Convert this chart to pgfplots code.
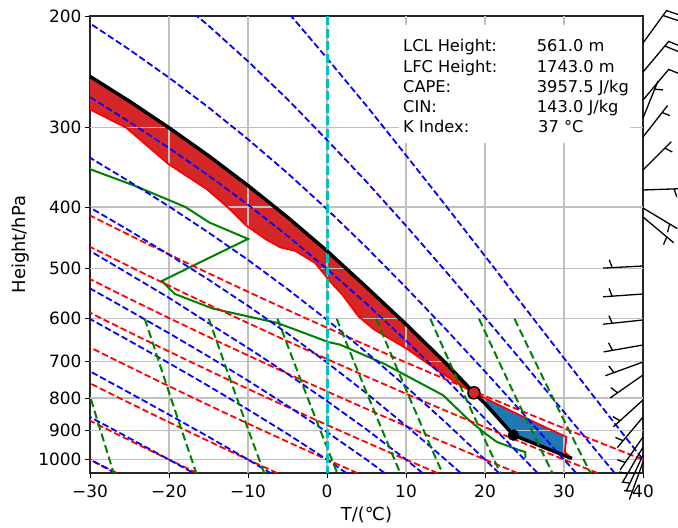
\documentclass[border=0pt]{standalone}
\usepackage{fontspec}
\setmainfont{DejaVu Sans}
\usepackage{pgfplots}
\pgfplotsset{compat=1.18}
\definecolor{tabred}{RGB}{214,39,40}
\definecolor{tabblue}{RGB}{31,119,180}
\definecolor{mgreen}{RGB}{0,128,0}
\definecolor{mcyan}{RGB}{0,191,191}
\definecolor{gridc}{RGB}{192,192,192}
\definecolor{mred}{RGB}{255,0,0}
\definecolor{mblue}{RGB}{0,0,255}
\tikzset{
 dry/.style={mred, line width=1.8bp, dash pattern=on 6.5bp off 3bp},
 moist/.style={mblue, line width=1.8bp, dash pattern=on 6.5bp off 3bp},
 mix/.style={mgreen, line width=2bp, dash pattern=on 8bp off 4bp},
 barb/.style={black, line width=1.3bp},
}
\begin{document}
\begin{tikzpicture}
\begin{axis}[
 name=main,
 scale only axis, width=553bp, height=457bp,
 xmin=-30, xmax=40,
 ymode=log, ymin=200, ymax=1050, y dir=reverse,
 xtick={-30,-20,-10,0,10,20,30,40},
 xticklabels={−30,−20,−10,0,10,20,30,40},
 ytick={200,300,400,500,600,700,800,900,1000},
 yticklabels={200,300,400,500,600,700,800,900,1000},
 yminorticks=false, xminorticks=false,
 tick align=outside, major tick length=5bp,
 xtick pos=bottom, ytick pos=left,
 tick style={black, line width=1bp},
 axis line style={black!85, line width=1.2bp},
 tick label style={font=\fontsize{17}{20}\selectfont},
 xticklabel style={yshift=-3bp},
 xlabel={T/(℃)}, ylabel={Height/hPa},
 label style={font=\fontsize{18}{21}\selectfont},
 xlabel style={at={(axis description cs:0.5,-0.092)}, anchor=center},
 ylabel style={at={(axis description cs:-0.1248,0.5)}, anchor=center},
 clip=true,
 unbounded coords=jump,
]
% CAPE area
\addplot[fill=tabred, draw=none] coordinates {
 (18.6,785)(17.3,769)(14.3,728)(10.1,669)(5.9,623)(4.0,595)(1.9,549)(0.5,526)(-1.5,490)(-4.0,469)(-5.9,463)(-7.7,450)(-10.2,428)(-12.5,401)(-15.2,375)(-20.1,342)(-25.4,300)(-29.9,281)(-34,263)
 (-35,228)(-30,249)(-25,272.5)(-20,300)(-15,332)(-10,370)(-5,415)(0,469)(5,535)(10,612)(15,704)(18.6,785)};
% CIN area
\addplot[fill=tabblue, draw=none] coordinates {
 (18.6,785)(25.3,862)(30.3,921)(30.1,973)(31.0,996)(23.6,915)(20,815.8)(18.6,785)};
% grid
\addplot[gridc, line width=1.2bp] coordinates {(-20,200)(-20,1050)};
\addplot[gridc, line width=1.2bp] coordinates {(-10,200)(-10,1050)};
\addplot[gridc, line width=1.2bp] coordinates {(0,200)(0,1050)};
\addplot[gridc, line width=1.2bp] coordinates {(10,200)(10,1050)};
\addplot[gridc, line width=1.2bp] coordinates {(20,200)(20,1050)};
\addplot[gridc, line width=1.2bp] coordinates {(30,200)(30,1050)};
\addplot[gridc, line width=1.2bp] coordinates {(-30,300)(40,300)};
\addplot[gridc, line width=1.2bp] coordinates {(-30,400)(40,400)};
\addplot[gridc, line width=1.2bp] coordinates {(-30,500)(40,500)};
\addplot[gridc, line width=1.2bp] coordinates {(-30,600)(40,600)};
\addplot[gridc, line width=1.2bp] coordinates {(-30,700)(40,700)};
\addplot[gridc, line width=1.2bp] coordinates {(-30,800)(40,800)};
\addplot[gridc, line width=1.2bp] coordinates {(-30,900)(40,900)};
\addplot[gridc, line width=1.2bp] coordinates {(-30,1000)(40,1000)};
% temperature
\addplot[mred, line width=1.8bp] coordinates {
 (-34,263)(-29.9,281)(-25.4,300)(-20.1,342)(-15.2,375)(-12.5,401)(-10.2,428)(-7.7,450)(-5.9,463)(-4.0,469)(-1.5,490)(0.5,526)(1.9,549)(4.0,595)(5.9,623)(10.1,669)(14.3,728)(17.3,769)(18.6,785)(25.3,862)(30.3,921)(30.1,973)(31.0,996)};
% dewpoint
\addplot[mgreen, line width=2bp] coordinates {
 (-32,340)(-29.9,349)(-24.4,370)(-17.9,400)(-14.9,423)(-10.0,449)(-20.9,523)(-19.3,548)(-14.5,578)(-6.3,609)(0.2,653)(1.65,659)(7.3,707)(9.2,728)(14.7,792)(17.9,865)(19.8,905)(21.5,938)(24.4,967)(25.1,973)(25.1,995)};
% parcel
\addplot[black, line width=3.5bp] coordinates {
 (31.0,996)(23.6,915)(20,815.8)(18.6,785)(15,704)(10,612)(5,535)(0,469)(-5,415)(-10,370)(-15,332)(-20,300)(-25,272.5)(-30,249)(-35,228)};
% dry adiabats
\addplot[dry] coordinates {(-26.59,1050)(-30,1000)(-33.54,950)};
\addplot[dry] coordinates {(-16.45,1050)(-20,1000)(-23.68,950)(-27.51,900)(-31.49,850)};
\addplot[dry] coordinates {(-6.31,1050)(-10,1000)(-13.83,950)(-17.80,900)(-21.94,850)(-26.25,800)(-30.76,750)};
\addplot[dry] coordinates {(3.84,1050)(0,1000)(-3.97,950)(-8.10,900)(-12.39,850)(-16.87,800)(-21.55,750)(-26.46,700)(-31.63,650)};
\addplot[dry] coordinates {(13.98,1050)(10,1000)(5.88,950)(1.60,900)(-2.85,850)(-7.48,800)(-12.34,750)(-17.43,700)(-22.79,650)(-28.45,600)(-34.46,550)};
\addplot[dry] coordinates {(24.12,1050)(20,1000)(15.73,950)(11.31,900)(6.70,850)(1.90,800)(-3.13,750)(-8.40,700)(-13.95,650)(-19.80,600)(-26.03,550)(-32.66,500)};
\addplot[dry] coordinates {(34.25,1050)(30,1000)(25.59,950)(21.01,900)(16.24,850)(11.28,800)(6.08,750)(0.63,700)(-5.10,650)(-11.16,600)(-17.60,550)(-24.46,500)(-31.84,450)};
\addplot[dry] coordinates {(44.39,1050)(40,1000)(35.44,950)(30.72,900)(25.80,850)(20.66,800)(15.29,750)(9.66,700)(3.74,650)(-2.52,600)(-9.17,550)(-16.26,500)(-23.88,450)(-32.13,400)};
% moist adiabats
\addplot[moist] coordinates {(-26.8,1050)(-30,1000)(-35,926.4)};
\addplot[moist] coordinates {(-15,1082)(-20,1000)(-25,925.4)(-30,856.7)(-35,793.2)};
\addplot[moist] coordinates {(-5,1089.7)(-10,1000)(-15,920.8)(-20,849.5)(-25,785.0)(-30,726.0)(-35,671.7)};
\addplot[moist] coordinates {(2.44,1050)(0,1000)(-5,911.1)(-10,833.9)(-15,765.6)(-20,704.7)(-25,650.0)(-30,600.3)(-35,554.8)};
\addplot[moist] coordinates {(7.28,1050)(5,1000)(0,905.1)(-5,822.8)(-10,750.9)(-15,687.8)(-20,632.2)(-25,582.4)(-30,537.4)(-35,496.4)};
\addplot[moist] coordinates {(12.09,1050)(10,1000)(5,896.3)(0,808.5)(-5,732.8)(-10,666.9)(-15,609.4)(-20,556)(-25,510.5)(-30,469)(-35,432.5)};
\addplot[moist] coordinates {(16.92,1050)(15,1000)(10,884.4)(5,786.2)(0,703.2)(-5,632.7)(-10,572.4)(-15,520.5)(-20,475.4)(-25,435.8)(-30,400.7)(-35,369.0)};
\addplot[moist] coordinates {(21.76,1050)(20,1000)(15,873.5)(10,767.4)(5,677.8)(0,602.2)(-5,538.6)(-10,484.6)(-15,438.7)(-20,399.1)(-25,364.7)(-30,334.4)(-35,307.4)};
\addplot[moist] coordinates {(26.65,1050)(25,1000)(20,862.2)(15,746.3)(10,649.4)(5,568.1)(0,500.8)(-5,444.1)(-10,396.7)(-15,356.7)(-20,322.9)(-25,293.7)(-30,268.4)(-35,246.1)};
\addplot[moist] coordinates {(31.54,1050)(30,1000)(25,851)(20,726.5)(15,622.3)(10,535.6)(5,463.1)(0,403.1)(-5,353.7)(-10,312.8)(-15,278.6)(-20,250.1)(-25,226.0)(-30,205.4)(-35,187.5)};
\addplot[moist] coordinates {(36.42,1050)(35,1000)(30,841.2)(25,707.5)(20,597.1)(15,504.5)(10,428)(5,365)(0,313.6)(-5,270.5)(-10,235.7)(-15,207.1)(-20,183.7)};
\addplot[moist] coordinates {(41.4,1050)(40,1000)(35,832.5)(30,692)(25,575.3)(20,477.8)(15,397.5)(10,331.5)(5,277)(0,233.1)(-5,196.9)};
% mixing ratio lines
\addplot[mix] coordinates {(-32.93,600)(-31.33,700)(-29.92,800)(-28.67,900)(-27.53,1000)(-27.0,1050)};
\addplot[mix] coordinates {(-23.06,600)(-21.30,700)(-19.76,800)(-18.38,900)(-17.13,1000)(-16.55,1050)};
\addplot[mix] coordinates {(-14.96,600)(-13.07,700)(-11.41,800)(-9.93,900)(-8.58,1000)(-7.95,1050)};
\addplot[mix] coordinates {(-6.26,600)(-4.23,700)(-2.44,800)(-0.84,900)(0.61,1000)(1.29,1050)};
\addplot[mix] coordinates {(1.23,600)(3.39,700)(5.30,800)(7.00,900)(8.55,1000)(9.27,1050)};
\addplot[mix] coordinates {(6.22,600)(8.48,700)(10.46,800)(12.24,900)(13.85,1000)(14.61,1050)};
\addplot[mix] coordinates {(13.08,600)(15.46,700)(17.56,800)(19.44,900)(21.15,1000)(21.94,1050)};
\addplot[mix] coordinates {(19.24,600)(21.74,700)(23.94,800)(25.91,900)(27.70,1000)(28.54,1050)};
\addplot[mix] coordinates {(23.73,600)(26.32,700)(28.60,800)(30.64,900)(32.49,1000)(33.36,1050)};
% 0 degC isotherm
\addplot[mcyan, line width=3bp, dash pattern=on 9bp off 3.5bp] coordinates {(0,200)(0,1050)};
% LCL and LFC
\addplot[only marks, mark=*, mark size=5.5bp, black] coordinates {(23.6,915)};
\addplot[only marks, mark=*, mark size=6bp, mark options={fill=tabred, draw=black, line width=1.5bp}] coordinates {(18.6,785)};
\end{axis}
\begin{axis}[
 at={(main.south west)}, anchor=south west,
 scale only axis, width=553bp, height=457bp,
 xmin=0, xmax=553, ymin=0, ymax=457,
 hide axis, clip=false, unbounded coords=jump,
]
\addplot[fill=white, draw=none] coordinates {(309,330)(540,330)(540,448)(309,448)(309,330)};
\node[anchor=base west, inner sep=0, font=\fontsize{16.3}{19}\selectfont] at (axis cs:313,421) {LCL Height:};
\node[anchor=base west, inner sep=0, font=\fontsize{16.3}{19}\selectfont] at (axis cs:313,400.7) {LFC Height:};
\node[anchor=base west, inner sep=0, font=\fontsize{16.3}{19}\selectfont] at (axis cs:313,380.4) {CAPE:};
\node[anchor=base west, inner sep=0, font=\fontsize{16.3}{19}\selectfont] at (axis cs:313,360) {CIN:};
\node[anchor=base west, inner sep=0, font=\fontsize{16.3}{19}\selectfont] at (axis cs:313,340) {K Index:};
\node[anchor=base west, inner sep=0, font=\fontsize{16.3}{19}\selectfont] at (axis cs:446.7,421) {561.0 m};
\node[anchor=base west, inner sep=0, font=\fontsize{16.3}{19}\selectfont] at (axis cs:446.7,400.7) {1743.0 m};
\node[anchor=base west, inner sep=0, font=\fontsize{16.3}{19}\selectfont] at (axis cs:446.7,380.4) {3957.5 J/kg};
\node[anchor=base west, inner sep=0, font=\fontsize{16.3}{19}\selectfont] at (axis cs:446.7,360) {143.0 J/kg};
\node[anchor=base west, inner sep=0, font=\fontsize{16.3}{19}\selectfont] at (axis cs:448,340) {37 °C};
% wind barbs
\addplot[barb] coordinates {(553,430)(576.5,462.4)(592.4,457.0)(nan,nan)(573.0,457.5)(588.9,452.2)};
\addplot[barb] coordinates {(553,401)(578.7,431.6)(594.2,425.2)(nan,nan)(574.8,427.0)(590.3,420.6)};
\addplot[barb] coordinates {(553,373)(578.7,403.6)(594.2,397.2)};
\addplot[barb] coordinates {(553,355)(568.0,392.1)(nan,nan)(564.6,383.8)(573.0,383.1)};
\addplot[barb] coordinates {(553,336)(577.6,367.5)(nan,nan)(572.1,360.4)(579.9,357.4)};
\addplot[barb] coordinates {(553,303)(581.3,331.3)(nan,nan)(574.9,324.9)(582.3,321.0)};
\addplot[barb] coordinates {(553,283)(593.0,284.4)(nan,nan)(584.0,284.1)(586.8,276.2)};
\addplot[barb] coordinates {(553,265)(587.3,244.4)(nan,nan)(579.6,249.0)(577.6,240.9)};
\addplot[barb] coordinates {(553,256)(583.6,230.3)(nan,nan)(576.7,236.1)(573.5,228.4)};
\addplot[barb] coordinates {(553,207)(513.1,204.9)(nan,nan)(522.1,205.4)(519.2,213.3)};
\addplot[barb] coordinates {(553,179)(513.1,176.2)(nan,nan)(522.1,176.8)(519.0,184.6)};
\addplot[barb] coordinates {(553,153)(513.2,148.8)(nan,nan)(522.2,149.7)(518.9,157.4)};
\addplot[barb] coordinates {(553,128)(513.6,121.1)(nan,nan)(522.5,122.7)(518.6,130.1)};
\addplot[barb] coordinates {(553,111)(515.4,97.3)(nan,nan)(523.9,100.4)(518.8,107.1)};
\addplot[barb] coordinates {(553,98)(520.2,75.1)(nan,nan)(527.6,80.2)(521.0,85.3)};
\addplot[barb] coordinates {(553,73)(523.3,46.2)(nan,nan)(530.0,52.2)(522.8,56.5)};
\addplot[barb] coordinates {(553,56)(527.3,25.4)(nan,nan)(533.1,32.3)(525.4,35.5)};
\addplot[barb] coordinates {(553,36)(530.1,3.2)(nan,nan)(535.3,10.6)(527.3,13.1)};
\addplot[barb] coordinates {(553,26)(533,-8.6)(nan,nan)(537.5,-0.8)(529.3,1.0)};
\addplot[barb] coordinates {(553,18)(536.1,-18.3)(nan,nan)(539.9,-10.1)(531.6,-9.0)};
\addplot[barb] coordinates {(553,11)(539.3,-26.6)(nan,nan)(542.4,-18.1)(534.0,-17.7)};
\end{axis}
\pgfresetboundingbox
\path[use as bounding box] ([shift={(-90bp,-54bp)}]main.south west) rectangle ([shift={(35bp,16bp)}]main.north east);
\end{tikzpicture}
\end{document}
